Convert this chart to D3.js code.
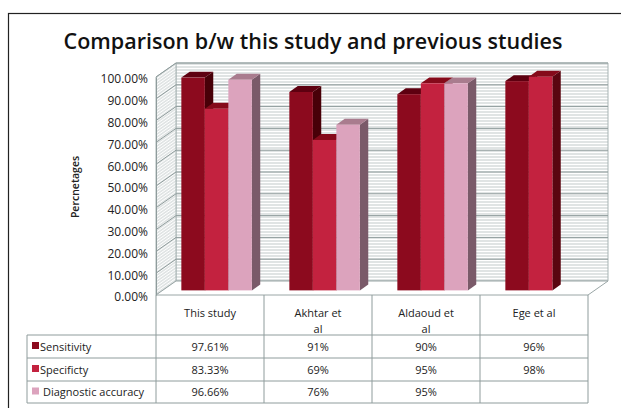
<!DOCTYPE html>
<html>
<head>
<meta charset="utf-8">
<script src="https://cdn.jsdelivr.net/npm/d3@7"></script>
<style>
  body { margin: 0; background: #fff; }
  text { font-family: "Open Sans", "Liberation Sans", sans-serif; }
</style>
</head>
<body>
<svg id="chart" width="621" height="408"></svg>
<script>
// data
var categories = ["This study", "Akhtar et al", "Aldaoud et al", "Ege et al"];
var categoryLines = [["This study"], ["Akhtar et", "al"], ["Aldaoud et", "al"], ["Ege et al"]];
var seriesNames = ["Sensitivity", "Specificty", "Diagnostic accuracy"];
var sensitivity = [0.9761, 0.91, 0.90, 0.96];
var specificity = [0.8333, 0.69, 0.95, 0.98];
var diagnosticAccuracy = [0.9666, 0.76, 0.95, null];
var yTicks = [0, 0.1, 0.2, 0.3, 0.4, 0.5, 0.6, 0.7, 0.8, 0.9, 1.0];

var seriesValues = [sensitivity, specificity, diagnosticAccuracy];
var faceColors = ["#8c0a1e", "#c3223f", "#dca3bd"];
var topColors = ["#5e0010", "#850a1a", "#a97c8e"];
var sideColors = ["#480008", "#5a0610", "#7a5a69"];

var svg = d3.select("#chart");

// outer frame
svg.append("rect")
    .attr("x", 8.5).attr("y", 13.5)
    .attr("width", 640).attr("height", 420)
    .attr("fill", "none").attr("stroke", "#222").attr("stroke-width", 1.2);

svg.append("text")
    .attr("x", 313).attr("y", 49)
    .attr("text-anchor", "middle")
    .attr("font-size", 21.5)
    .attr("font-weight", 600)
    .attr("fill", "#111")
    .text("Comparison b/w this study and previous studies");

// front plane scales
var x = d3.scaleBand().domain(categories).range([156, 588]);
var y = d3.scaleLinear().domain([0, 1]).range([295, 77]);
var DX = 20, DY = -14; // full wall depth

function pt(px, v, d) {
    return [px + d * DX, y(v) + d * DY];
}

var defs = svg.append("defs");
var hp = defs.append("pattern")
    .attr("id", "hatchBack").attr("patternUnits", "userSpaceOnUse")
    .attr("width", 6).attr("height", 3);
hp.append("rect").attr("width", 6).attr("height", 3).attr("fill", "#fff");
hp.append("line").attr("x1", 0).attr("x2", 6).attr("y1", 1).attr("y2", 1)
    .attr("stroke", "#c2caca").attr("stroke-width", 1);

var hs = defs.append("pattern")
    .attr("id", "hatchSide").attr("patternUnits", "userSpaceOnUse")
    .attr("width", 6).attr("height", 3)
    .attr("patternTransform", "skewY(-35)");
hs.append("rect").attr("width", 6).attr("height", 3).attr("fill", "#fff");
hs.append("line").attr("x1", 0).attr("x2", 6).attr("y1", 1).attr("y2", 1)
    .attr("stroke", "#c2caca").attr("stroke-width", 1);

var x0 = x.range()[0], x1 = x.range()[1];
var line = d3.line();

// back wall
svg.append("path")
    .attr("d", line([pt(x0, 0, 1), pt(x0, 1, 1), pt(x1, 1, 1), pt(x1, 0, 1)]) + "Z")
    .attr("fill", "url(#hatchBack)").attr("stroke", "#a9b5b5");
// side wall
svg.append("path")
    .attr("d", line([pt(x0, 0, 0), pt(x0, 1, 0), pt(x0, 1, 1), pt(x0, 0, 1)]) + "Z")
    .attr("fill", "url(#hatchSide)").attr("stroke", "#a9b5b5");
// floor
svg.append("path")
    .attr("d", line([pt(x0, 0, 0), pt(x1, 0, 0), pt(x1, 0, 1), pt(x0, 0, 1)]) + "Z")
    .attr("fill", "#fff").attr("stroke", "#9aa6a6");

// gridlines on walls
var grid = svg.append("g").attr("stroke", "#8f9c9c").attr("stroke-width", 1).attr("fill", "none");
yTicks.slice(1).forEach(function(v) {
    grid.append("path").attr("d", line([pt(x0, v, 0), pt(x0, v, 1), pt(x1, v, 1)]));
});

// y axis
var yAxis = d3.axisLeft(y).tickValues(yTicks).tickSize(0).tickPadding(8)
    .tickFormat(d3.format(".2%"));
var ya = svg.append("g").attr("transform", "translate(" + x0 + ",2)").call(yAxis);
ya.select(".domain").attr("stroke", "#8f9c9c").attr("transform", "translate(0,-2)");
ya.selectAll("text").attr("font-size", 12).attr("fill", "#222")
    .attr("font-family", "'Open Sans', sans-serif");

svg.append("text")
    .attr("transform", "translate(79,187) rotate(-90)")
    .attr("text-anchor", "middle")
    .attr("font-size", 10.5).attr("font-weight", 600).attr("fill", "#222")
    .text("Percnetages");

// bars
var inner = d3.scaleBand().domain(seriesNames).range([0, 70.5]);
var pad = (x.bandwidth() - inner.range()[1]) / 2;
var dFront = 0.33, dBack = 0.75;
var bars = svg.append("g");
categories.forEach(function(cat, ci) {
    seriesNames.forEach(function(s, si) {
        var v = seriesValues[si][ci];
        if (v == null) return;
        var l = x(cat) + pad + inner(s);
        var r = l + inner.bandwidth();
        var g = bars.append("g");
        // side
        g.append("path")
            .attr("d", line([pt(r, 0, dFront), pt(r, v, dFront), pt(r, v, dBack), pt(r, 0, dBack)]) + "Z")
            .attr("fill", sideColors[si]);
        // top
        g.append("path")
            .attr("d", line([pt(l, v, dFront), pt(r, v, dFront), pt(r, v, dBack), pt(l, v, dBack)]) + "Z")
            .attr("fill", topColors[si]);
        // front
        var a = pt(l, v, dFront), b = pt(r, 0, dFront);
        g.append("rect")
            .attr("x", a[0]).attr("y", a[1])
            .attr("width", b[0] - a[0]).attr("height", b[1] - a[1])
            .attr("fill", faceColors[si]);
    });
});

// data table
var tableLeft = 27;
var rowY = [335, 358, 381, 403];
var tbl = svg.append("g").attr("stroke", "#8f9c9c").attr("stroke-width", 1).attr("fill", "none");
categories.concat([null]).forEach(function(cat, i) {
    var cx = cat == null ? x1 : x(cat);
    tbl.append("line").attr("x1", cx).attr("x2", cx).attr("y1", y(0)).attr("y2", rowY[3]);
});
rowY.forEach(function(ry) {
    tbl.append("line").attr("x1", tableLeft).attr("x2", x1).attr("y1", ry).attr("y2", ry);
});
tbl.append("line").attr("x1", tableLeft).attr("x2", tableLeft).attr("y1", rowY[0]).attr("y2", rowY[3]);

categories.forEach(function(cat, ci) {
    var t = svg.append("text")
        .attr("x", x(cat) + x.bandwidth() / 2).attr("y", 317)
        .attr("text-anchor", "middle").attr("font-size", 11).attr("fill", "#222");
    categoryLines[ci].forEach(function(s, k) {
        t.append("tspan").attr("x", x(cat) + x.bandwidth() / 2)
            .attr("dy", k == 0 ? 0 : 16).text(s);
    });
});

function fmt(v) {
    return Math.abs(v * 100 - Math.round(v * 100)) < 1e-9 ? d3.format(".0%")(v) : d3.format(".2%")(v);
}

seriesNames.forEach(function(s, si) {
    var cy = (rowY[si] + rowY[si + 1]) / 2;
    svg.append("rect")
        .attr("x", 32).attr("y", cy - 4.5).attr("width", 7).attr("height", 7)
        .attr("fill", faceColors[si]);
    svg.append("text")
        .attr("x", si == 2 ? 43 : 40).attr("y", cy + 4)
        .attr("font-size", 11).attr("fill", "#222").text(s);
    categories.forEach(function(cat, ci) {
        var v = seriesValues[si][ci];
        if (v == null) return;
        svg.append("text")
            .attr("x", x(cat) + x.bandwidth() / 2).attr("y", cy + 4)
            .attr("text-anchor", "middle").attr("font-size", 11).attr("fill", "#222")
            .text(fmt(v));
    });
});
</script>
</body>
</html>
